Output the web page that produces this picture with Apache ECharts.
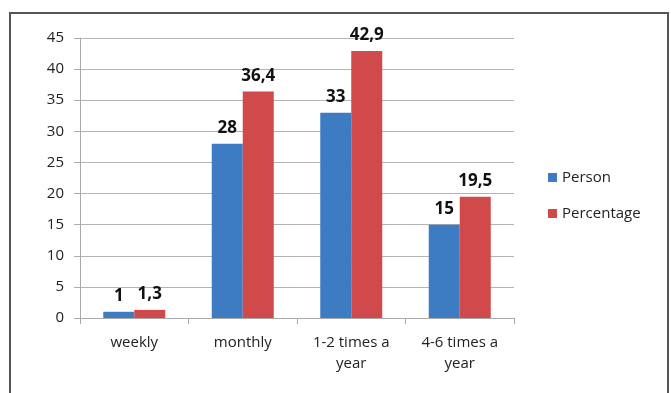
<!DOCTYPE html>
<html>
<head>
<meta charset="utf-8">
<script src="https://cdn.jsdelivr.net/npm/echarts@6/dist/echarts.min.js"></script>
<style>
  html, body { margin: 0; padding: 0; background: #fff; }
  #chart { width: 671px; height: 393px; }
</style>
</head>
<body>
<div id="chart"></div>
<script>
// categories and values
const categories = ['weekly', 'monthly', '1-2 times a\nyear', '4-6 times a\nyear']
const personValues = [1, 28, 33, 15]
const percentValues = [1.3, 36.4, 42.9, 19.5]

const chart = echarts.init(document.getElementById('chart'))

// value label with comma decimal
const labelStyle = {
  show: true,
  position: 'top',
  distance: 7,
  color: '#111',
  fontSize: 17,
  fontWeight: 'bold',
  fontFamily: 'Open Sans',
  formatter: p => String(p.value).replace('.', ',')
}

const option = {
  animation: false,
  textStyle: { fontFamily: 'Open Sans' },
  // frame around the chart
  graphic: [{
    type: 'rect',
    shape: { x: 10, y: 13, width: 658, height: 420 },
    style: { fill: 'none', stroke: '#555', lineWidth: 2 }
  }],
  grid: {
    left: 80,
    right: 157,
    top: 38,
    bottom: 75
  },
  legend: {
    orient: 'vertical',
    left: 543,
    top: 165,
    itemWidth: 9,
    itemHeight: 9,
    itemGap: 21,
    icon: 'rect',
    textStyle: { fontSize: 15, color: '#222', fontFamily: 'Open Sans' },
    data: ['Person', 'Percentage']
  },
  xAxis: {
    type: 'category',
    data: categories,
    axisLine: { lineStyle: { color: '#aaa' } },
    axisTick: { show: true, length: 6, lineStyle: { color: '#aaa' } },
    axisLabel: { color: '#222', fontSize: 15, margin: 14, lineHeight: 21 }
  },
  yAxis: {
    type: 'value',
    min: 0,
    max: 45,
    interval: 5,
    axisLine: { show: true, lineStyle: { color: '#aaa' } },
    axisTick: { show: true, length: 6, lineStyle: { color: '#aaa' } },
    axisLabel: { color: '#222', fontSize: 15, margin: 16 },
    splitLine: { lineStyle: { color: '#b4b4b4' } }
  },
  series: [
    {
      name: 'Person',
      type: 'bar',
      data: personValues,
      barWidth: 31,
      barGap: '0%',
      itemStyle: { color: '#3d7cc3' },
      label: labelStyle
    },
    {
      name: 'Percentage',
      type: 'bar',
      data: percentValues,
      barWidth: 31,
      itemStyle: { color: '#d14a4b' },
      label: labelStyle
    }
  ]
}

chart.setOption(option)
</script>
</body>
</html>
